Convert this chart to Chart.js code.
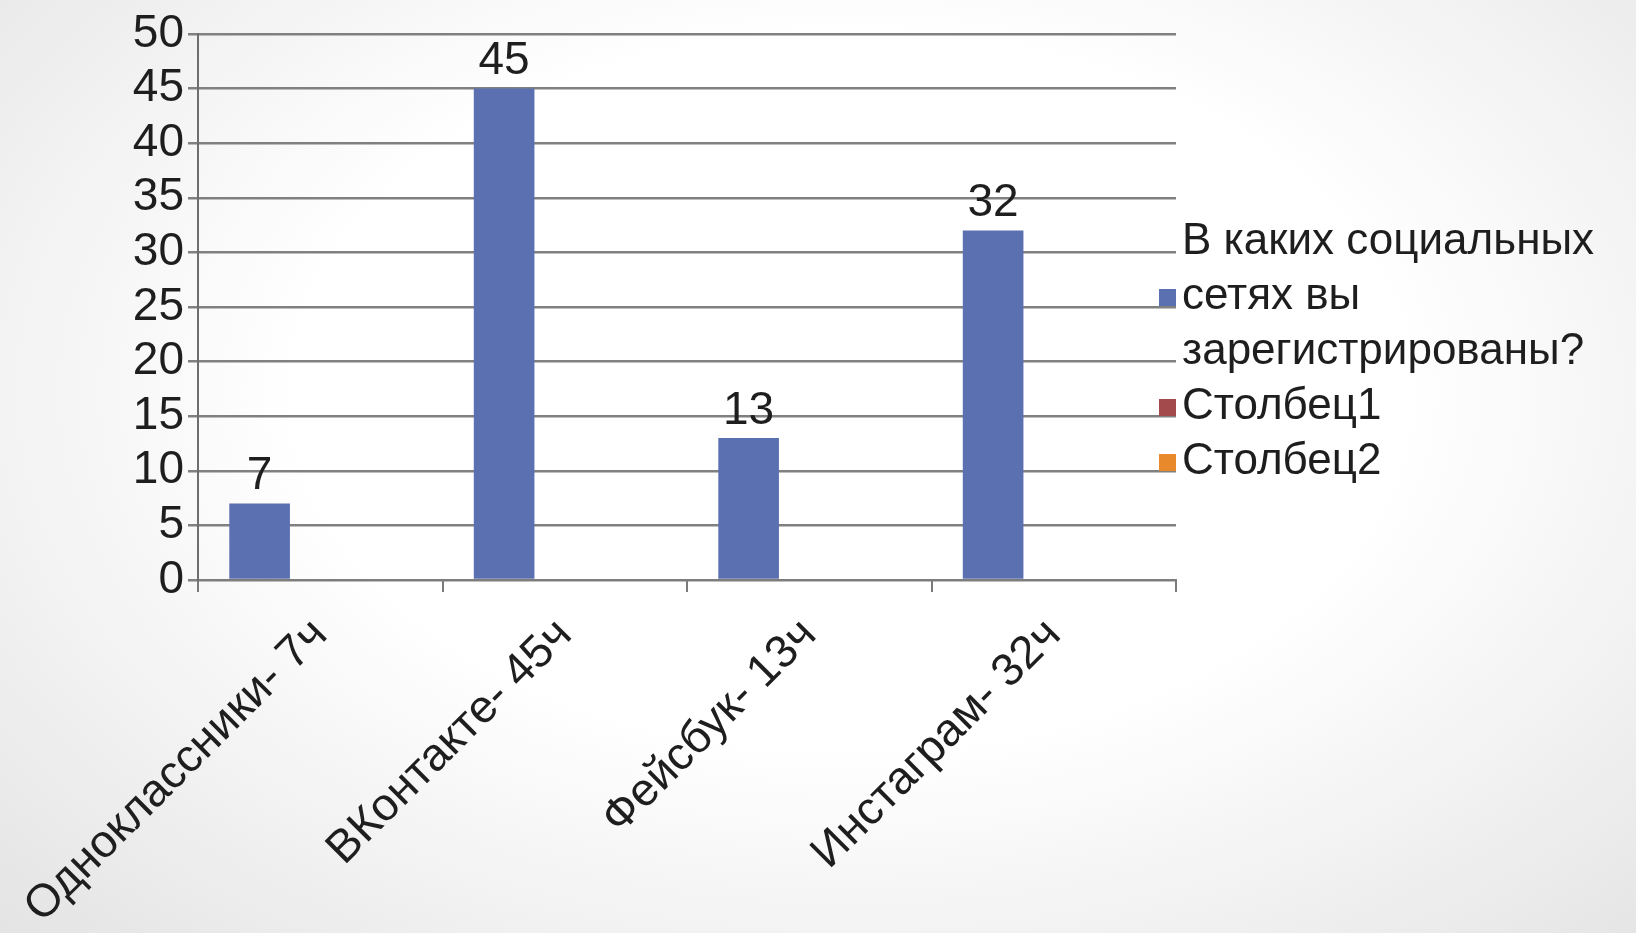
<!DOCTYPE html>
<html>
<head>
<meta charset="utf-8">
<script src="https://cdn.jsdelivr.net/npm/chart.js@4.4.1/dist/chart.umd.min.js"></script>
<style>
  html, body { margin: 0; padding: 0; }
  body {
    width: 1636px; height: 933px; overflow: hidden;
    background: radial-gradient(ellipse 75% 85% at 52% 42%, #ffffff 45%, #f2f2f2 70%, #e2e2e2 100%);
  }
  #wrap { position: absolute; left: 0; top: 0; width: 1636px; height: 933px; }
</style>
</head>
<body>
<div id="wrap"><canvas id="chart"></canvas></div>
<script>
// data
const categories = ["Одноклассники- 7ч", "ВКонтакте- 45ч", "Фейсбук- 13ч", "Инстаграм- 32ч"];
const seriesNames = ["В каких социальных сетях вы зарегистрированы?", "Столбец1", "Столбец2"];
const mainValues = [7, 45, 13, 32];
const col1Values = [null, null, null, null];
const col2Values = [null, null, null, null];
const seriesColors = ["#5b70b0", "#a34a4c", "#e8892b"];
const yMax = 50;
const yStep = 5;

const FONT = "'Liberation Sans', Arial, sans-serif";
const TXT = "#1e1e1e";

// value labels above the bars of the first series
const valueLabels = {
  id: "valueLabels",
  afterDatasetsDraw(chart) {
    const ctx = chart.ctx;
    const meta = chart.getDatasetMeta(0);
    ctx.save();
    ctx.font = "46px " + FONT;
    ctx.fillStyle = TXT;
    ctx.textAlign = "center";
    ctx.textBaseline = "bottom";
    meta.data.forEach((bar, i) => {
      if (mainValues[i] == null) return;
      ctx.fillText(String(mainValues[i]), bar.x, bar.y - 4);
    });
    ctx.restore();
  }
};

// legend on the right, marker overlapping the gridline ends
const sideLegend = {
  id: "sideLegend",
  afterDraw(chart) {
    const ctx = chart.ctx;
    const area = chart.chartArea;
    const textX = area.right + 6;
    const lineH = 55;
    let y = 242;
    ctx.save();
    ctx.font = "44px " + FONT;
    ctx.textBaseline = "middle";
    chart.data.datasets.forEach((ds, i) => {
      // wrap the label to the space right of the plot
      const words = ds.label.split(" ");
      const lines = [];
      let cur = "";
      const maxW = chart.width - textX - 2;
      words.forEach(w => {
        const t = cur ? cur + " " + w : w;
        if (ctx.measureText(t).width > maxW && cur) { lines.push(cur); cur = w; }
        else cur = t;
      });
      lines.push(cur);
      const mid = y + (lines.length - 1) * lineH / 2;
      ctx.fillStyle = ds.backgroundColor;
      ctx.fillRect(area.right - 17, mid - 8, 17, 17);
      ctx.fillStyle = TXT;
      ctx.textAlign = "left";
      lines.forEach((ln, k) => ctx.fillText(ln, textX, y + k * lineH));
      y += lines.length * lineH;
    });
    ctx.restore();
  }
};

const ctx = document.getElementById("chart");
new Chart(ctx, {
  type: "bar",
  data: {
    labels: categories,
    datasets: [
      { label: seriesNames[0], data: mainValues, backgroundColor: seriesColors[0] },
      { label: seriesNames[1], data: col1Values, backgroundColor: seriesColors[1] },
      { label: seriesNames[2], data: col2Values, backgroundColor: seriesColors[2] }
    ]
  },
  options: {
    responsive: true,
    maintainAspectRatio: false,
    animation: false,
    categoryPercentage: 0.744,
    barPercentage: 1.0,
    layout: { padding: { left: 0, right: 460, top: 34, bottom: 0 } },
    plugins: { legend: { display: false }, tooltip: { enabled: false } },
    scales: {
      x: {
        grid: { display: true, drawOnChartArea: false, drawTicks: true, tickLength: 12, color: "#7a7a7a", lineWidth: 2, offset: true },
        border: { display: true, color: "#7d7d7d", width: 2 },
        ticks: {
          color: TXT, font: { family: FONT, size: 46 },
          maxRotation: 45, minRotation: 45, padding: 16, autoSkip: false
        },
        afterFit(scale) { scale.height = 353; scale.paddingLeft = 0; scale.paddingRight = 0; }
      },
      y: {
        min: 0, max: yMax,
        grid: { color: "#808080", lineWidth: 2.5, drawTicks: true, tickLength: 10 },
        border: { display: true, color: "#6e6e6e", width: 2 },
        ticks: { stepSize: yStep, autoSkip: false, color: TXT, font: { family: FONT, size: 46 }, padding: 4 },
        afterFit(scale) { scale.width = 198; }
      }
    }
  },
  plugins: [valueLabels, sideLegend]
});
</script>
</body>
</html>
